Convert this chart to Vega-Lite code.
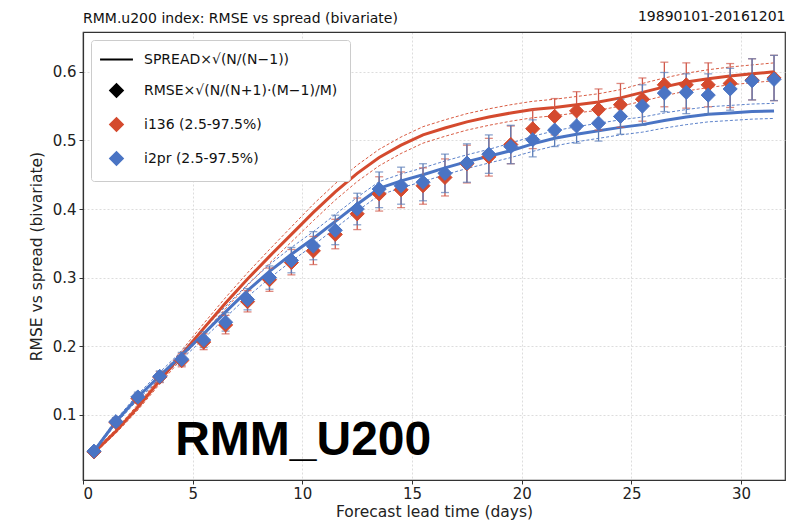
{
  "$schema": "https://vega.github.io/schema/vega-lite/v6.json",
  "width": 702,
  "height": 448,
  "autosize": {"type": "none"},
  "padding": {"left": 83, "top": 32, "right": 14, "bottom": 42},
  "background": "white",
  "title": {"text": "RMM.u200 index: RMSE vs spread (bivariate)", "anchor": "start", "frame": "group", "font": "DejaVu Sans", "fontSize": 14, "fontWeight": "normal", "color": "#111", "offset": -17},
  "datasets": {
    "pts": [
      {"day":0.5,"series":"i136 (2.5-97.5%)","rmse":0.046,"lo":0.041,"hi":0.051},
      {"day":1.5,"series":"i136 (2.5-97.5%)","rmse":0.089,"lo":0.083,"hi":0.095},
      {"day":2.5,"series":"i136 (2.5-97.5%)","rmse":0.124,"lo":0.117,"hi":0.131},
      {"day":3.5,"series":"i136 (2.5-97.5%)","rmse":0.155,"lo":0.147,"hi":0.163},
      {"day":4.5,"series":"i136 (2.5-97.5%)","rmse":0.179,"lo":0.170,"hi":0.189},
      {"day":5.5,"series":"i136 (2.5-97.5%)","rmse":0.206,"lo":0.195,"hi":0.218},
      {"day":6.5,"series":"i136 (2.5-97.5%)","rmse":0.231,"lo":0.218,"hi":0.245},
      {"day":7.5,"series":"i136 (2.5-97.5%)","rmse":0.265,"lo":0.250,"hi":0.281},
      {"day":8.5,"series":"i136 (2.5-97.5%)","rmse":0.297,"lo":0.280,"hi":0.314},
      {"day":9.5,"series":"i136 (2.5-97.5%)","rmse":0.322,"lo":0.304,"hi":0.341},
      {"day":10.5,"series":"i136 (2.5-97.5%)","rmse":0.339,"lo":0.319,"hi":0.360},
      {"day":11.5,"series":"i136 (2.5-97.5%)","rmse":0.363,"lo":0.342,"hi":0.385},
      {"day":12.5,"series":"i136 (2.5-97.5%)","rmse":0.393,"lo":0.370,"hi":0.416},
      {"day":13.5,"series":"i136 (2.5-97.5%)","rmse":0.422,"lo":0.397,"hi":0.447},
      {"day":14.5,"series":"i136 (2.5-97.5%)","rmse":0.428,"lo":0.402,"hi":0.454},
      {"day":15.5,"series":"i136 (2.5-97.5%)","rmse":0.434,"lo":0.407,"hi":0.460},
      {"day":16.5,"series":"i136 (2.5-97.5%)","rmse":0.446,"lo":0.419,"hi":0.473},
      {"day":17.5,"series":"i136 (2.5-97.5%)","rmse":0.466,"lo":0.438,"hi":0.493},
      {"day":18.5,"series":"i136 (2.5-97.5%)","rmse":0.476,"lo":0.448,"hi":0.503},
      {"day":19.5,"series":"i136 (2.5-97.5%)","rmse":0.494,"lo":0.466,"hi":0.521},
      {"day":20.5,"series":"i136 (2.5-97.5%)","rmse":0.517,"lo":0.488,"hi":0.545},
      {"day":21.5,"series":"i136 (2.5-97.5%)","rmse":0.535,"lo":0.508,"hi":0.561},
      {"day":22.5,"series":"i136 (2.5-97.5%)","rmse":0.543,"lo":0.516,"hi":0.571},
      {"day":23.5,"series":"i136 (2.5-97.5%)","rmse":0.545,"lo":0.515,"hi":0.575},
      {"day":24.5,"series":"i136 (2.5-97.5%)","rmse":0.552,"lo":0.519,"hi":0.583},
      {"day":25.5,"series":"i136 (2.5-97.5%)","rmse":0.560,"lo":0.528,"hi":0.591},
      {"day":26.5,"series":"i136 (2.5-97.5%)","rmse":0.581,"lo":0.549,"hi":0.614},
      {"day":27.5,"series":"i136 (2.5-97.5%)","rmse":0.581,"lo":0.547,"hi":0.613},
      {"day":28.5,"series":"i136 (2.5-97.5%)","rmse":0.581,"lo":0.549,"hi":0.613},
      {"day":29.5,"series":"i136 (2.5-97.5%)","rmse":0.583,"lo":0.548,"hi":0.612},
      {"day":30.5,"series":"i136 (2.5-97.5%)","rmse":0.588,"lo":0.559,"hi":0.619},
      {"day":31.5,"series":"i136 (2.5-97.5%)","rmse":0.591,"lo":0.558,"hi":0.624},
      {"day":0.5,"series":"i2pr (2.5-97.5%)","rmse":0.047,"lo":0.042,"hi":0.052},
      {"day":1.5,"series":"i2pr (2.5-97.5%)","rmse":0.090,"lo":0.084,"hi":0.096},
      {"day":2.5,"series":"i2pr (2.5-97.5%)","rmse":0.126,"lo":0.119,"hi":0.133},
      {"day":3.5,"series":"i2pr (2.5-97.5%)","rmse":0.156,"lo":0.148,"hi":0.164},
      {"day":4.5,"series":"i2pr (2.5-97.5%)","rmse":0.181,"lo":0.172,"hi":0.191},
      {"day":5.5,"series":"i2pr (2.5-97.5%)","rmse":0.209,"lo":0.198,"hi":0.221},
      {"day":6.5,"series":"i2pr (2.5-97.5%)","rmse":0.235,"lo":0.222,"hi":0.249},
      {"day":7.5,"series":"i2pr (2.5-97.5%)","rmse":0.268,"lo":0.253,"hi":0.284},
      {"day":8.5,"series":"i2pr (2.5-97.5%)","rmse":0.300,"lo":0.283,"hi":0.317},
      {"day":9.5,"series":"i2pr (2.5-97.5%)","rmse":0.325,"lo":0.307,"hi":0.344},
      {"day":10.5,"series":"i2pr (2.5-97.5%)","rmse":0.346,"lo":0.326,"hi":0.367},
      {"day":11.5,"series":"i2pr (2.5-97.5%)","rmse":0.369,"lo":0.348,"hi":0.391},
      {"day":12.5,"series":"i2pr (2.5-97.5%)","rmse":0.400,"lo":0.377,"hi":0.423},
      {"day":13.5,"series":"i2pr (2.5-97.5%)","rmse":0.429,"lo":0.402,"hi":0.454},
      {"day":14.5,"series":"i2pr (2.5-97.5%)","rmse":0.434,"lo":0.407,"hi":0.461},
      {"day":15.5,"series":"i2pr (2.5-97.5%)","rmse":0.439,"lo":0.412,"hi":0.466},
      {"day":16.5,"series":"i2pr (2.5-97.5%)","rmse":0.452,"lo":0.424,"hi":0.480},
      {"day":17.5,"series":"i2pr (2.5-97.5%)","rmse":0.467,"lo":0.439,"hi":0.495},
      {"day":18.5,"series":"i2pr (2.5-97.5%)","rmse":0.480,"lo":0.452,"hi":0.508},
      {"day":19.5,"series":"i2pr (2.5-97.5%)","rmse":0.491,"lo":0.466,"hi":0.522},
      {"day":20.5,"series":"i2pr (2.5-97.5%)","rmse":0.501,"lo":0.476,"hi":0.530},
      {"day":21.5,"series":"i2pr (2.5-97.5%)","rmse":0.515,"lo":0.491,"hi":0.538},
      {"day":22.5,"series":"i2pr (2.5-97.5%)","rmse":0.521,"lo":0.496,"hi":0.545},
      {"day":23.5,"series":"i2pr (2.5-97.5%)","rmse":0.525,"lo":0.499,"hi":0.550},
      {"day":24.5,"series":"i2pr (2.5-97.5%)","rmse":0.535,"lo":0.509,"hi":0.560},
      {"day":25.5,"series":"i2pr (2.5-97.5%)","rmse":0.550,"lo":0.522,"hi":0.581},
      {"day":26.5,"series":"i2pr (2.5-97.5%)","rmse":0.569,"lo":0.542,"hi":0.599},
      {"day":27.5,"series":"i2pr (2.5-97.5%)","rmse":0.570,"lo":0.539,"hi":0.597},
      {"day":28.5,"series":"i2pr (2.5-97.5%)","rmse":0.566,"lo":0.539,"hi":0.597},
      {"day":29.5,"series":"i2pr (2.5-97.5%)","rmse":0.575,"lo":0.544,"hi":0.605},
      {"day":30.5,"series":"i2pr (2.5-97.5%)","rmse":0.587,"lo":0.559,"hi":0.619},
      {"day":31.5,"series":"i2pr (2.5-97.5%)","rmse":0.589,"lo":0.558,"hi":0.624}
    ],
    "spr": [
      {"day":0.5,"model":"i136","spread":0.045,"lo":0.043,"hi":0.047},
      {"day":1.5,"model":"i136","spread":0.076,"lo":0.073,"hi":0.079},
      {"day":2.5,"model":"i136","spread":0.111,"lo":0.107,"hi":0.115},
      {"day":3.5,"model":"i136","spread":0.150,"lo":0.145,"hi":0.155},
      {"day":4.5,"model":"i136","spread":0.188,"lo":0.182,"hi":0.194},
      {"day":5.5,"model":"i136","spread":0.226,"lo":0.219,"hi":0.233},
      {"day":6.5,"model":"i136","spread":0.263,"lo":0.255,"hi":0.271},
      {"day":7.5,"model":"i136","spread":0.298,"lo":0.289,"hi":0.307},
      {"day":8.5,"model":"i136","spread":0.331,"lo":0.321,"hi":0.341},
      {"day":9.5,"model":"i136","spread":0.363,"lo":0.352,"hi":0.374},
      {"day":10.5,"model":"i136","spread":0.395,"lo":0.383,"hi":0.407},
      {"day":11.5,"model":"i136","spread":0.425,"lo":0.413,"hi":0.437},
      {"day":12.5,"model":"i136","spread":0.452,"lo":0.440,"hi":0.464},
      {"day":13.5,"model":"i136","spread":0.475,"lo":0.463,"hi":0.487},
      {"day":14.5,"model":"i136","spread":0.493,"lo":0.481,"hi":0.505},
      {"day":15.5,"model":"i136","spread":0.508,"lo":0.496,"hi":0.520},
      {"day":16.5,"model":"i136","spread":0.518,"lo":0.506,"hi":0.530},
      {"day":17.5,"model":"i136","spread":0.527,"lo":0.515,"hi":0.539},
      {"day":18.5,"model":"i136","spread":0.534,"lo":0.522,"hi":0.546},
      {"day":19.5,"model":"i136","spread":0.540,"lo":0.528,"hi":0.552},
      {"day":20.5,"model":"i136","spread":0.545,"lo":0.533,"hi":0.557},
      {"day":21.5,"model":"i136","spread":0.548,"lo":0.536,"hi":0.560},
      {"day":22.5,"model":"i136","spread":0.552,"lo":0.540,"hi":0.564},
      {"day":23.5,"model":"i136","spread":0.556,"lo":0.544,"hi":0.568},
      {"day":24.5,"model":"i136","spread":0.562,"lo":0.550,"hi":0.574},
      {"day":25.5,"model":"i136","spread":0.570,"lo":0.557,"hi":0.583},
      {"day":26.5,"model":"i136","spread":0.578,"lo":0.565,"hi":0.591},
      {"day":27.5,"model":"i136","spread":0.585,"lo":0.572,"hi":0.598},
      {"day":28.5,"model":"i136","spread":0.590,"lo":0.577,"hi":0.603},
      {"day":29.5,"model":"i136","spread":0.594,"lo":0.581,"hi":0.607},
      {"day":30.5,"model":"i136","spread":0.597,"lo":0.584,"hi":0.610},
      {"day":31.5,"model":"i136","spread":0.600,"lo":0.587,"hi":0.613},
      {"day":0.5,"model":"i2pr","spread":0.047,"lo":0.045,"hi":0.049},
      {"day":1.5,"model":"i2pr","spread":0.090,"lo":0.087,"hi":0.093},
      {"day":2.5,"model":"i2pr","spread":0.126,"lo":0.122,"hi":0.130},
      {"day":3.5,"model":"i2pr","spread":0.157,"lo":0.152,"hi":0.162},
      {"day":4.5,"model":"i2pr","spread":0.187,"lo":0.181,"hi":0.193},
      {"day":5.5,"model":"i2pr","spread":0.218,"lo":0.211,"hi":0.225},
      {"day":6.5,"model":"i2pr","spread":0.250,"lo":0.242,"hi":0.258},
      {"day":7.5,"model":"i2pr","spread":0.281,"lo":0.272,"hi":0.290},
      {"day":8.5,"model":"i2pr","spread":0.309,"lo":0.299,"hi":0.319},
      {"day":9.5,"model":"i2pr","spread":0.334,"lo":0.324,"hi":0.344},
      {"day":10.5,"model":"i2pr","spread":0.357,"lo":0.347,"hi":0.367},
      {"day":11.5,"model":"i2pr","spread":0.382,"lo":0.372,"hi":0.392},
      {"day":12.5,"model":"i2pr","spread":0.407,"lo":0.397,"hi":0.417},
      {"day":13.5,"model":"i2pr","spread":0.430,"lo":0.420,"hi":0.440},
      {"day":14.5,"model":"i2pr","spread":0.441,"lo":0.431,"hi":0.451},
      {"day":15.5,"model":"i2pr","spread":0.450,"lo":0.440,"hi":0.460},
      {"day":16.5,"model":"i2pr","spread":0.460,"lo":0.450,"hi":0.470},
      {"day":17.5,"model":"i2pr","spread":0.469,"lo":0.459,"hi":0.479},
      {"day":18.5,"model":"i2pr","spread":0.477,"lo":0.467,"hi":0.487},
      {"day":19.5,"model":"i2pr","spread":0.485,"lo":0.475,"hi":0.496},
      {"day":20.5,"model":"i2pr","spread":0.495,"lo":0.484,"hi":0.506},
      {"day":21.5,"model":"i2pr","spread":0.503,"lo":0.492,"hi":0.514},
      {"day":22.5,"model":"i2pr","spread":0.509,"lo":0.498,"hi":0.520},
      {"day":23.5,"model":"i2pr","spread":0.514,"lo":0.503,"hi":0.525},
      {"day":24.5,"model":"i2pr","spread":0.519,"lo":0.508,"hi":0.530},
      {"day":25.5,"model":"i2pr","spread":0.523,"lo":0.512,"hi":0.534},
      {"day":26.5,"model":"i2pr","spread":0.529,"lo":0.518,"hi":0.540},
      {"day":27.5,"model":"i2pr","spread":0.534,"lo":0.523,"hi":0.545},
      {"day":28.5,"model":"i2pr","spread":0.538,"lo":0.527,"hi":0.549},
      {"day":29.5,"model":"i2pr","spread":0.540,"lo":0.529,"hi":0.551},
      {"day":30.5,"model":"i2pr","spread":0.542,"lo":0.531,"hi":0.553},
      {"day":31.5,"model":"i2pr","spread":0.543,"lo":0.532,"hi":0.554}
    ],
    "lbl": [{"label": "RMM_U200"}]
  },
  "config": {
    "font": "DejaVu Sans",
    "view": {"stroke": "#333333", "strokeWidth": 1.2},
    "axis": {"grid": true, "gridColor": "#d4d4d4", "gridDash": [2, 2], "gridWidth": 0.8, "domain": true, "domainColor": "#333333", "domainWidth": 1.2, "tickColor": "#333333", "tickSize": 4, "labelFont": "DejaVu Sans", "labelFontSize": 15, "labelColor": "#222222", "titleFont": "DejaVu Sans", "titleFontSize": 15.5, "titleFontWeight": "normal", "titleColor": "#222222"},
    "legend": {"orient": "top-left", "offset": 8, "padding": 12, "fillColor": "white", "strokeColor": "#cccccc", "cornerRadius": 3, "labelFont": "DejaVu Sans", "labelFontSize": 14, "labelColor": "#111111", "symbolSize": 160, "symbolStrokeWidth": 2, "symbolOffset": 6, "rowPadding": 13, "labelLimit": 320, "labelOffset": 20}
  },
  "resolve": {"axis": {"x": "independent"}},
  "layer": [
    {
      "data": {"name": "spr"},
      "transform": [{"filter": "datum.model === 'i136'"}, {"fold": ["lo", "hi"], "as": ["bound", "val"]}],
      "mark": {"type": "line", "color": "#d44a2e", "strokeWidth": 0.9, "strokeDash": [3, 2]},
      "encoding": {
        "x": {"field": "day", "type": "quantitative", "scale": {"domain": [0, 32], "nice": false, "zero": false}, "axis": {"values": [0, 5, 10, 15, 20, 25, 30], "title": "Forecast lead time (days)", "labelPadding": 2, "titlePadding": 3}},
        "y": {"field": "val", "type": "quantitative", "scale": {"domain": [0.005, 0.658], "nice": false, "zero": false}, "axis": {"values": [0.1, 0.2, 0.3, 0.4, 0.5, 0.6], "format": ".1f", "title": "RMSE vs spread (bivariate)", "labelPadding": 3, "titlePadding": 8}},
        "detail": {"field": "bound"}
      }
    },
    {
      "data": {"name": "spr"},
      "transform": [{"filter": "datum.model === 'i2pr'"}, {"fold": ["lo", "hi"], "as": ["bound", "val"]}],
      "mark": {"type": "line", "color": "#4a74c4", "strokeWidth": 0.9, "strokeDash": [3, 2]},
      "encoding": {
        "x": {"field": "day", "type": "quantitative", "axis": {"orient": "top", "title": "19890101-20161201", "titleAnchor": "end", "titleFontSize": 14, "titleColor": "#111111", "titlePadding": 9, "labels": false, "ticks": false, "domain": true, "grid": false}},
        "y": {"field": "val", "type": "quantitative", "title": "RMSE vs spread (bivariate)"},
        "detail": {"field": "bound"}
      }
    },
    {
      "data": {"name": "spr"},
      "transform": [{"filter": "datum.model === 'i136'"}],
      "mark": {"type": "line", "color": "#d44a2e", "strokeWidth": 3},
      "encoding": {
        "x": {"field": "day", "type": "quantitative", "axis": null},
        "y": {"field": "spread", "type": "quantitative", "title": "RMSE vs spread (bivariate)"}
      }
    },
    {
      "data": {"name": "spr"},
      "transform": [{"filter": "datum.model === 'i2pr'"}],
      "mark": {"type": "line", "color": "#4a74c4", "strokeWidth": 3},
      "encoding": {
        "x": {"field": "day", "type": "quantitative", "axis": null},
        "y": {"field": "spread", "type": "quantitative", "title": "RMSE vs spread (bivariate)"}
      }
    },
    {
      "data": {"name": "pts"},
      "transform": [{"filter": "datum.series === 'i136 (2.5-97.5%)'"}],
      "mark": {"type": "errorbar", "ticks": {"size": 8}, "color": "#d0584a", "thickness": 1.3},
      "encoding": {
        "x": {"field": "day", "type": "quantitative", "axis": null},
        "y": {"field": "lo", "type": "quantitative", "title": "RMSE vs spread (bivariate)"},
        "y2": {"field": "hi"}
      }
    },
    {
      "data": {"name": "pts"},
      "transform": [{"filter": "datum.series === 'i2pr (2.5-97.5%)'"}],
      "mark": {"type": "errorbar", "ticks": {"size": 8}, "color": "#5b7db8", "thickness": 1.3},
      "encoding": {
        "x": {"field": "day", "type": "quantitative", "axis": null},
        "y": {"field": "lo", "type": "quantitative", "title": "RMSE vs spread (bivariate)"},
        "y2": {"field": "hi"}
      }
    },
    {
      "data": {"name": "pts"},
      "mark": {"type": "point", "filled": true, "size": 200, "strokeWidth": 1, "opacity": 1},
      "encoding": {
        "x": {"field": "day", "type": "quantitative", "axis": null},
        "y": {"field": "rmse", "type": "quantitative", "title": "RMSE vs spread (bivariate)"},
        "color": {"field": "series", "type": "nominal", "scale": {"domain": ["SPREAD×√(N/(N−1))", "RMSE×√(N/(N+1)·(M−1)/M)", "i136 (2.5-97.5%)", "i2pr (2.5-97.5%)"], "range": ["#000000", "#000000", "#d44a2e", "#4a74c4"]}, "legend": {"title": null}},
        "stroke": {"field": "series", "type": "nominal", "scale": {"domain": ["SPREAD×√(N/(N−1))", "RMSE×√(N/(N+1)·(M−1)/M)", "i136 (2.5-97.5%)", "i2pr (2.5-97.5%)"], "range": ["#000000", "#000000", "#d44a2e", "#4a74c4"]}, "legend": {"title": null}},
        "shape": {"field": "series", "type": "nominal", "scale": {"domain": ["SPREAD×√(N/(N−1))", "RMSE×√(N/(N+1)·(M−1)/M)", "i136 (2.5-97.5%)", "i2pr (2.5-97.5%)"], "range": ["M-2.6,0L2.6,0", "diamond", "diamond", "diamond"]}, "legend": {"title": null}}
      }
    },
    {
      "data": {"name": "lbl"},
      "mark": {"type": "text", "font": "Liberation Sans", "fontWeight": "bold", "fontSize": 48, "align": "left", "baseline": "alphabetic", "color": "#000000"},
      "encoding": {
        "text": {"field": "label"},
        "x": {"datum": 4.2, "type": "quantitative", "axis": null},
        "y": {"datum": 0.042, "type": "quantitative"}
      }
    }
  ]
}
